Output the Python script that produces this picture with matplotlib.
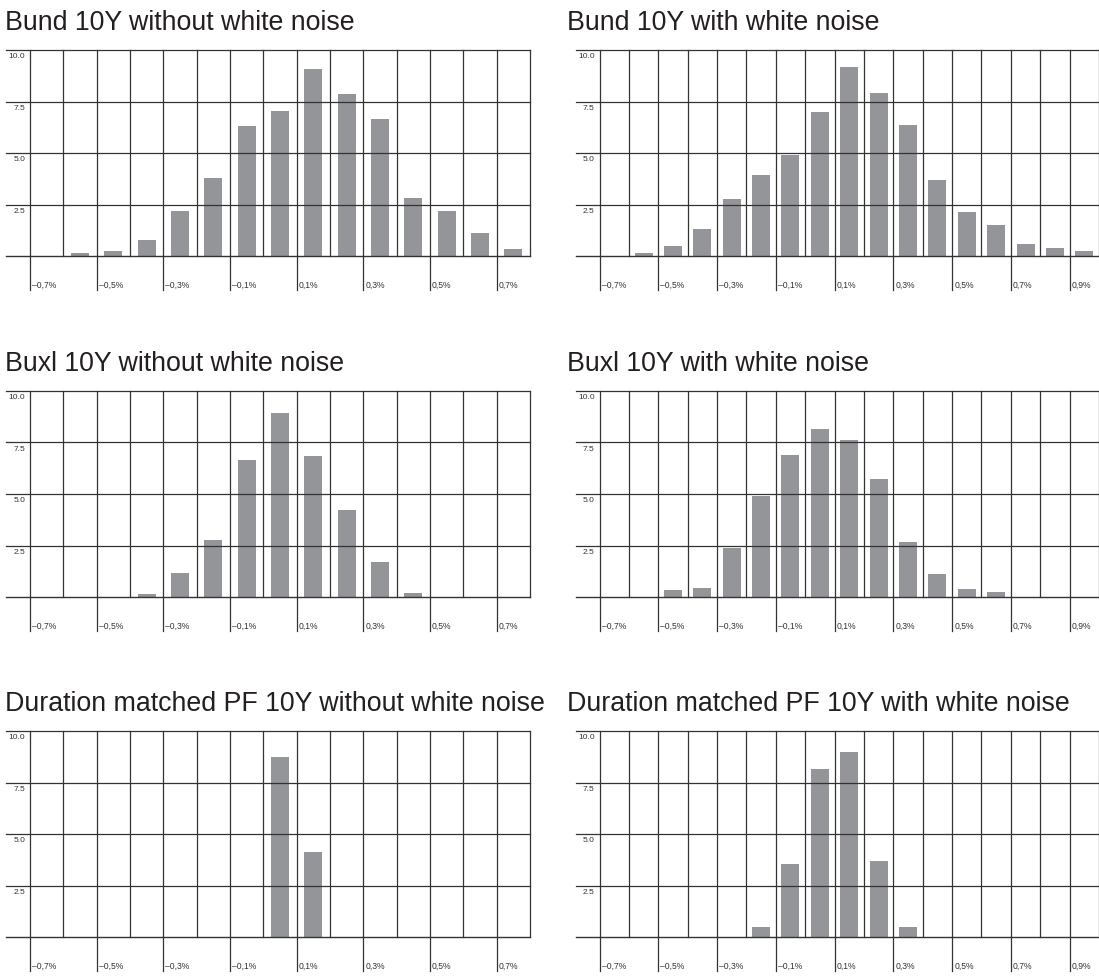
import matplotlib
matplotlib.use("Agg")
import matplotlib.pyplot as plt
import numpy as np

plt.rcParams['font.family'] = ['Liberation Sans', 'DejaVu Sans']

# bin left edges in %, bins are 0.1% wide
edges_narrow = np.round(np.arange(-0.7, 0.8, 0.1), 2)   # 15 bins, -0.7 .. 0.8
edges_wide = np.round(np.arange(-0.7, 1.0, 0.1), 2)     # 17 bins, -0.7 .. 1.0

bund_wo = [0, 0.15, 0.24, 0.78, 2.18, 3.79, 6.31, 7.04, 9.08, 7.86, 6.65, 2.82, 2.18, 1.12, 0.34]
bund_w = [0, 0.15, 0.49, 1.31, 2.77, 3.93, 4.90, 6.99, 9.17, 7.91, 6.36, 3.69, 2.14, 1.50, 0.58, 0.39, 0.24]
buxl_wo = [0, 0, 0, 0.15, 1.16, 2.76, 6.64, 8.92, 6.83, 4.22, 1.70, 0.19, 0, 0, 0]
buxl_w = [0, 0, 0.34, 0.44, 2.37, 4.90, 6.88, 8.14, 7.61, 5.72, 2.67, 1.11, 0.39, 0.24, 0, 0, 0]
pf_wo = [0, 0, 0, 0, 0, 0, 0, 8.72, 4.11, 0, 0, 0, 0, 0, 0]
pf_w = [0, 0, 0, 0, 0, 0.47, 3.54, 8.14, 8.96, 3.67, 0.47, 0, 0, 0, 0, 0, 0]

titles = [
    "Bund 10Y without white noise", "Bund 10Y with white noise",
    "Buxl 10Y without white noise", "Buxl 10Y with white noise",
    "Duration matched PF 10Y without white noise", "Duration matched PF 10Y with white noise",
]
y_ticks = [2.5, 5.0, 7.5, 10.0]

W, H = 1099, 976
fig = plt.figure(figsize=(W / 100, H / 100), dpi=100)

panels = [(bund_wo, edges_narrow), (bund_w, edges_wide),
          (buxl_wo, edges_narrow), (buxl_w, edges_wide),
          (pf_wo, edges_narrow), (pf_w, edges_wide)]

row_tops = [50, 391, 731]
plot_h = 206
bar_color = '#939598'
line_color = '#333333'


def fmt(v):
    s = "%.1f%%" % abs(v)
    s = s.replace('.', ',')
    return ("\u2013" + s) if v < 0 else s


for i, (vals, edges) in enumerate(panels):
    row, col = divmod(i, 2)
    if col == 0:
        x0, x1 = 30, 530
    else:
        x0, x1 = 599.5, 1099
    top = row_tops[row]
    ax = fig.add_axes([x0 / W, 1 - (top + plot_h) / H, (x1 - x0) / W, plot_h / H])
    xmin = edges[0]
    xmax = round(edges[-1] + 0.1, 2)
    centers = edges + 0.05
    bw = 18 / (x1 - x0) * (xmax - xmin)
    ax.bar(centers, vals, width=bw, color=bar_color, zorder=2)
    ax.set_xlim(xmin, xmax)
    ax.set_ylim(0, 10)
    ax.axis('off')

    ext = -24 / (x1 - x0)
    ytr = ax.get_yaxis_transform()
    xtr = ax.get_xaxis_transform()
    # horizontal grid, extended to the left into the label area
    ax.plot([ext, 1], [0, 0], transform=ytr, color=line_color, lw=1.0,
            clip_on=False, zorder=3)
    for yv in y_ticks:
        ax.plot([ext, 1], [yv, yv], transform=ytr, color=line_color, lw=0.9,
                clip_on=False, zorder=3)
        ax.annotate("%.1f" % yv, xy=(0, yv), xycoords=ytr, xytext=(-3.5, -2.5),
                    textcoords='offset points', ha='right', va='top',
                    fontsize=6, color='#333333')
    # vertical grid
    for e in list(edges) + [xmax]:
        ax.plot([e, e], [0, 10], color=line_color, lw=0.9, zorder=3,
                clip_on=False)
    # labelled ticks every 0.2%
    tick_pos = edges[::2]
    for t in tick_pos:
        ax.plot([t, t], [0, -34 / plot_h], transform=xtr, color=line_color,
                lw=0.9, clip_on=False)
        ax.annotate(fmt(t), xy=(t, -34 / plot_h), xycoords=xtr, xytext=(1.5, 0),
                    textcoords='offset points', ha='left', va='bottom',
                    fontsize=6.2, color='#333333')

    tx = 5 if col == 0 else 567
    fig.text(tx / W, 1 - (top - 20) / H, titles[i], fontsize=19.3, color='#231f20',
             ha='left', va='baseline')

fig.savefig("out.png", dpi=100)
